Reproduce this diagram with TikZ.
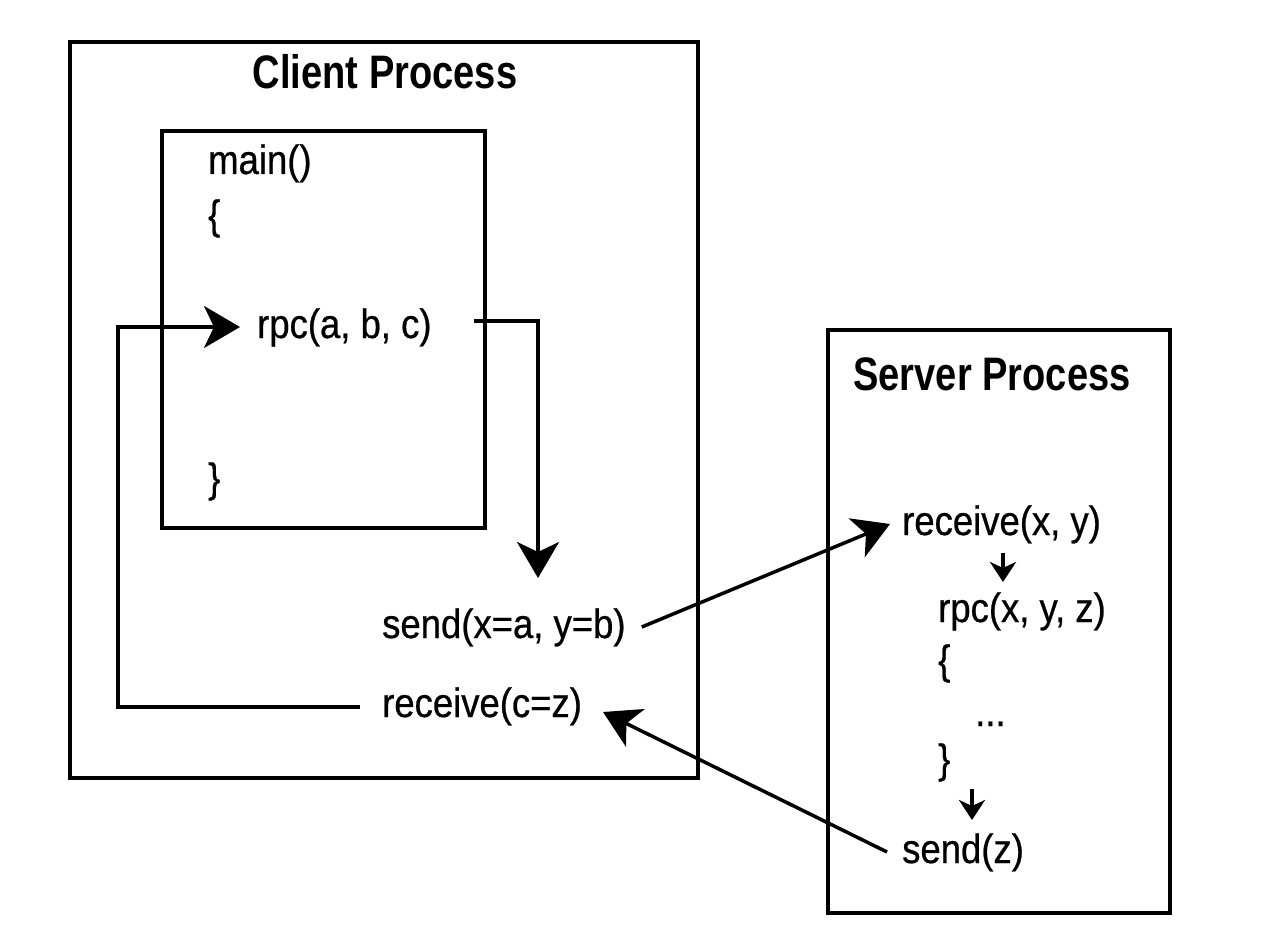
\documentclass[tikz,border=0pt]{standalone}
\usepackage{fontspec}
\setmainfont{Liberation Sans}
\newfontfamily\titlefont[FakeStretch=0.81]{Liberation Sans}
\newfontfamily\codefont[FakeStretch=0.89,FakeBold=0.6]{Liberation Sans}
\usetikzlibrary{arrows.meta}
\begin{document}
\begin{tikzpicture}[x=1pt,y=-1pt,
  box/.style={line width=4pt},
  ttl/.style={font=\titlefont\bfseries\fontsize{47}{52}\selectfont, inner sep=0pt},
  code/.style={font=\codefont\fontsize{41}{46}\selectfont, inner sep=0pt, anchor=west, text height=31pt, text depth=9pt},
  arr/.style={line width=3.5pt, -{Stealth[length=36pt,width=42pt,inset=10pt]}},
  sarr/.style={line width=3.5pt, -{Stealth[length=20pt,width=26pt,inset=6pt]}}]
\useasboundingbox (0,0) rectangle (1261,933);
\draw[box] (70,42) rectangle (698,778);
\draw[box] (162,131) rectangle (485,528);
\draw[box] (828,330) rectangle (1170,913);
\node[ttl] (ctitle) at (385,72) {Client Process};
\node[ttl] (stitle) at (992,374) {Server Process};
\node[code] (main) at (208,163) {main()};
\node[code] (lb1) at (208,218) {\{};
\node[code] (rpc) at (257,327) {rpc(a, b, c)};
\node[code] (rb1) at (208,481) {\}};
\node[code] (send) at (382,627) {send(x=a, y=b)};
\node[code] (recvc) at (382,706) {receive(c=z)};
\node[code] (recvxy) at (902,524) {receive(x, y)};
\node[code] (rpcs) at (938,611) {rpc(x, y, z)};
\node[code] (lb2) at (938,663) {\{};
\node[code] (dots) at (975,715) {...};
\node[code] (rb2) at (938,762) {\}};
\node[code] (sendz) at (902,852) {send(z)};
\coordinate (retstart) at (360,707);
\coordinate (retcorner) at (118,327);
\coordinate (rpcin) at (240,327);
\coordinate (outstart) at (474,321);
\coordinate (outend) at (538,578);
\draw[arr] (retstart) -| (retcorner) -- (rpcin);
\draw[arr] (outstart) -| (outend);
\draw[arr] ([xshift=16pt]send.east) -- ([xshift=-12pt]recvxy.west);
\draw[arr] ([xshift=-15pt]sendz.west) -- (603,712);
\draw[sarr] (1003,553) -- (1003,582);
\draw[sarr] (972,789) -- (972,820);
\end{tikzpicture}
\end{document}
